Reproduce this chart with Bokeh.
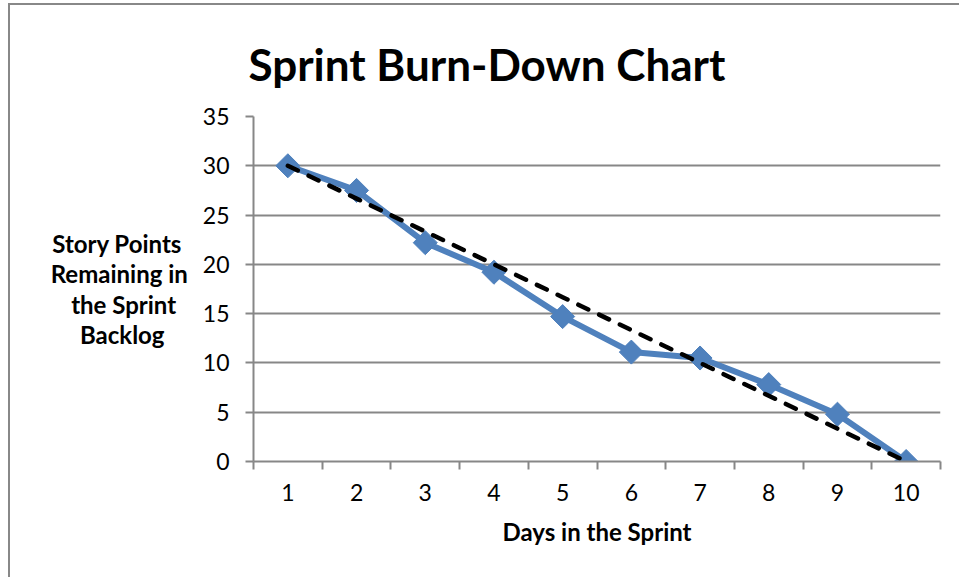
from bokeh.plotting import figure
from bokeh.models import Range1d, FixedTicker
from bokeh.embed import file_html
from bokeh.resources import INLINE

days = [1, 2, 3, 4, 5, 6, 7, 8, 9, 10]
actual = [30, 27.5, 22.2, 19.2, 14.7, 11.1, 10.5, 7.8, 4.8, 0]
ideal = [30, 26.67, 23.33, 20, 16.67, 13.33, 10, 6.67, 3.33, 0]
y_ticks = [0, 5, 10, 15, 20, 25, 30, 35]
title_text = "Sprint Burn-Down Chart"
x_label = "Days in the Sprint"
y_label_lines = ["Story Points", "Remaining in", "the Sprint", "Backlog"]

FONT = "Lato"
GRAY = "#878787"
BLUE = "#4F81BD"
NB = "\u00a0"

# the axis label lines are right-aligned by Bokeh; pad them so they look centred
y_pad = [1, 0, 2, 4]
y_label = "\n".join(t + NB * n for t, n in zip(y_label_lines, y_pad))

W, H = 951, 574
p = figure(width=W, height=H, output_backend="svg", toolbar_location=None,
           x_range=Range1d(0.5, 10.5), y_range=Range1d(0, 35),
           min_border_left=243, min_border_right=21, min_border_top=111,
           min_border_bottom=118)
p.styles = {"border-left": "2px solid #888888", "border-top": "2px solid #888888",
            "box-sizing": "border-box", "margin-left": "8px", "margin-top": "3px"}
p.outline_line_color = None
p.background_fill_color = "white"
p.border_fill_color = "white"

# title
p.title.text = title_text
p.title.text_font = FONT
p.title.text_font_size = "44px"
p.title.text_font_style = "bold"
p.title.text_color = "black"
p.title.align = "left"
p.title.offset = -5
p.title.standoff = 54

# grid
p.xgrid.visible = False
p.ygrid.ticker = FixedTicker(ticks=y_ticks)
p.ygrid.grid_line_color = GRAY
p.ygrid.grid_line_width = 2

# y axis
p.yaxis.ticker = FixedTicker(ticks=y_ticks)
p.yaxis.axis_line_color = GRAY
p.yaxis.axis_line_width = 2
p.yaxis.major_tick_line_color = GRAY
p.yaxis.major_tick_line_width = 2
p.yaxis.major_tick_out = 8
p.yaxis.major_tick_in = 0
p.yaxis.minor_tick_line_color = None
p.yaxis.major_label_text_font = FONT
p.yaxis.major_label_text_font_size = "23px"
p.yaxis.major_label_text_color = "black"
p.yaxis.major_label_standoff = 16
p.yaxis.axis_label = y_label
p.yaxis.axis_label_orientation = "horizontal"
p.yaxis.axis_label_text_font = FONT
p.yaxis.axis_label_text_font_size = "24px"
p.yaxis.axis_label_text_font_style = "bold"
p.yaxis.axis_label_text_color = "black"
p.yaxis.axis_label_text_line_height = 1.05
p.yaxis.axis_label_standoff = 12

# x axis
bounds = [d - 0.5 for d in days] + [days[-1] + 0.5]
p.xaxis.ticker = FixedTicker(ticks=days, minor_ticks=bounds)
p.xaxis.axis_line_color = GRAY
p.xaxis.axis_line_width = 2
p.xaxis.major_tick_line_color = None
p.xaxis.major_tick_out = 8
p.xaxis.major_tick_in = 0
p.xaxis.minor_tick_line_color = GRAY
p.xaxis.minor_tick_line_width = 2
p.xaxis.minor_tick_out = 8
p.xaxis.minor_tick_in = 0
p.xaxis.major_label_text_font = FONT
p.xaxis.major_label_text_font_size = "23px"
p.xaxis.major_label_text_color = "black"
p.xaxis.major_label_standoff = 14
p.xaxis.axis_label = x_label
p.xaxis.axis_label_text_font = FONT
p.xaxis.axis_label_text_font_size = "24px"
p.xaxis.axis_label_text_font_style = "bold"
p.xaxis.axis_label_text_color = "black"
p.xaxis.axis_label_standoff = 13

# series
p.line(days, actual, line_color=BLUE, line_width=6)
p.scatter(days, actual, marker="square", angle=0.785398, size=17,
          fill_color=BLUE, line_color=BLUE)
p.line(days, ideal, line_color="black", line_width=4.5, line_dash="11 12",
       line_cap="round")

open("out.html", "w").write(file_html(p, INLINE))
